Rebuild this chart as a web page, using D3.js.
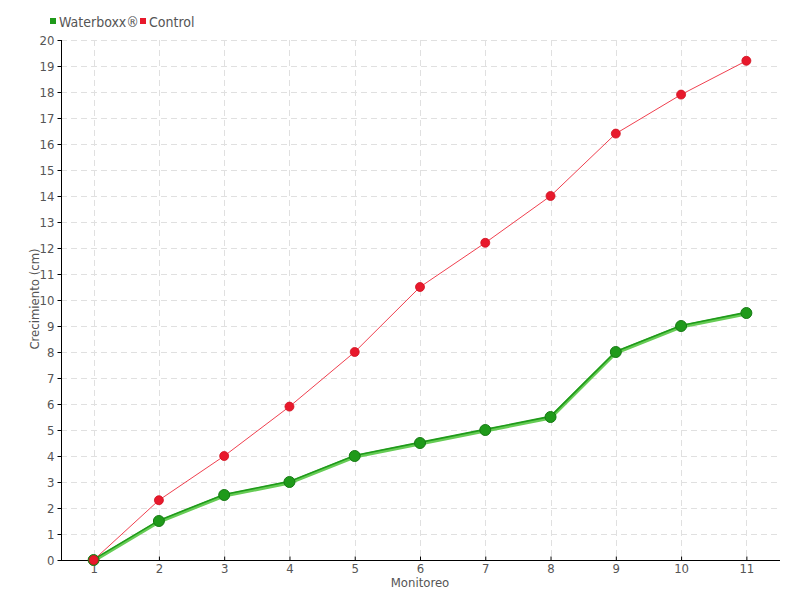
<!DOCTYPE html>
<html><head><meta charset="utf-8">
<script src="https://cdn.jsdelivr.net/npm/d3@7"></script>
<style>
body{margin:0;background:#fff;}
text{font-family:"DejaVu Sans Condensed","Liberation Sans Narrow","Roboto Condensed",sans-serif;fill:#555;}
</style></head><body>
<svg id="c" width="800" height="600"></svg>
<script>
const categories = ["1","2","3","4","5","6","7","8","9","10","11"];
const waterboxx = [0,1.5,2.5,3,4,4.5,5,5.5,8,9,9.5];
const control = [0,2.3,4,5.9,8,10.5,12.2,14,16.4,17.9,19.2];
const yTicks = d3.range(0,21);
const seriesNames = ["Waterboxx®","Control"];

const svg = d3.select("#c");
const L=61,R=780,T=40,B=560;
const x = d3.scalePoint().domain(categories).range([L,R-1]).padding(0.5);
const y = d3.scaleLinear().domain([0,20]).range([B,T]);

// grid
svg.append("g").selectAll("line").data(yTicks.slice(1)).join("line")
 .attr("x1",L).attr("x2",R).attr("y1",d=>y(d)+0.5).attr("y2",d=>y(d)+0.5)
 .attr("stroke","#e0e0e0").attr("stroke-dasharray","6,4");
svg.append("g").selectAll("line").data(categories).join("line")
 .attr("x1",d=>Math.round(x(d))+0.5).attr("x2",d=>Math.round(x(d))+0.5).attr("y1",T).attr("y2",B)
 .attr("stroke","#e0e0e0").attr("stroke-dasharray","6,4");

// axes
const ya = svg.append("g").attr("transform",`translate(${L+0.5},0)`)
 .call(d3.axisLeft(y).tickValues(yTicks).tickSize(4).tickPadding(3));
ya.select(".domain").attr("d",`M0,${T}V${B}`).attr("stroke","#000");
ya.selectAll(".tick line").attr("stroke","#000");
ya.selectAll("text").style("font-size","13px").attr("fill","#555");

const xa = svg.append("g").attr("transform",`translate(0,${B+0.5})`)
 .call(d3.axisBottom(x).tickSize(0).tickPadding(3));
xa.select(".domain").attr("d",`M${L},0H${R}`).attr("stroke","#000");
xa.selectAll("text").style("font-size","13px").attr("fill","#555");
xa.selectAll(".tick").append("line").attr("y1",0).attr("y2",-4).attr("stroke","#000");

svg.append("text").attr("x",420).attr("y",587).attr("text-anchor","middle").style("font-size","13px").text("Monitoreo");
svg.append("text").attr("transform","translate(39,299) rotate(-90)").attr("text-anchor","middle").style("font-size","13px").text("Crecimiento (cm)");

// lines
const line = d3.line().x((d,i)=>x(categories[i])).y(d=>y(d));
svg.append("path").datum(waterboxx).attr("d",line).attr("fill","none").attr("stroke","#66cc55").attr("stroke-width",3.5).attr("transform","translate(0,0.8)");
svg.append("path").datum(waterboxx).attr("d",line).attr("fill","none").attr("stroke","#1f9a1a").attr("stroke-width",1.6).attr("transform","translate(0,-0.6)");
svg.append("path").datum(control).attr("d",line).attr("fill","none").attr("stroke","#f0404f").attr("stroke-width",1);

svg.append("g").selectAll("circle").data(waterboxx).join("circle")
 .attr("cx",(d,i)=>x(categories[i])).attr("cy",d=>y(d)).attr("r",5.5)
 .attr("fill","#1f9a1a").attr("stroke","#167a14").attr("stroke-width",1);
svg.append("g").selectAll("circle").data(control).join("circle")
 .attr("cx",(d,i)=>x(categories[i])).attr("cy",d=>y(d)).attr("r",4.5)
 .attr("fill","#e8192c").attr("stroke","#d01020").attr("stroke-width",0.8);

// legend
const lg = svg.append("g");
const colors=["#1f9a1a","#e8192c"];
const lx=[50,140];
seriesNames.forEach((n,i)=>{
  lg.append("rect").attr("x",lx[i]).attr("y",18).attr("width",6).attr("height",6).attr("fill",colors[i]);
  lg.append("text").attr("x",lx[i]+9).attr("y",27).style("font-size","14px").text(n);
});
</script></body></html>
